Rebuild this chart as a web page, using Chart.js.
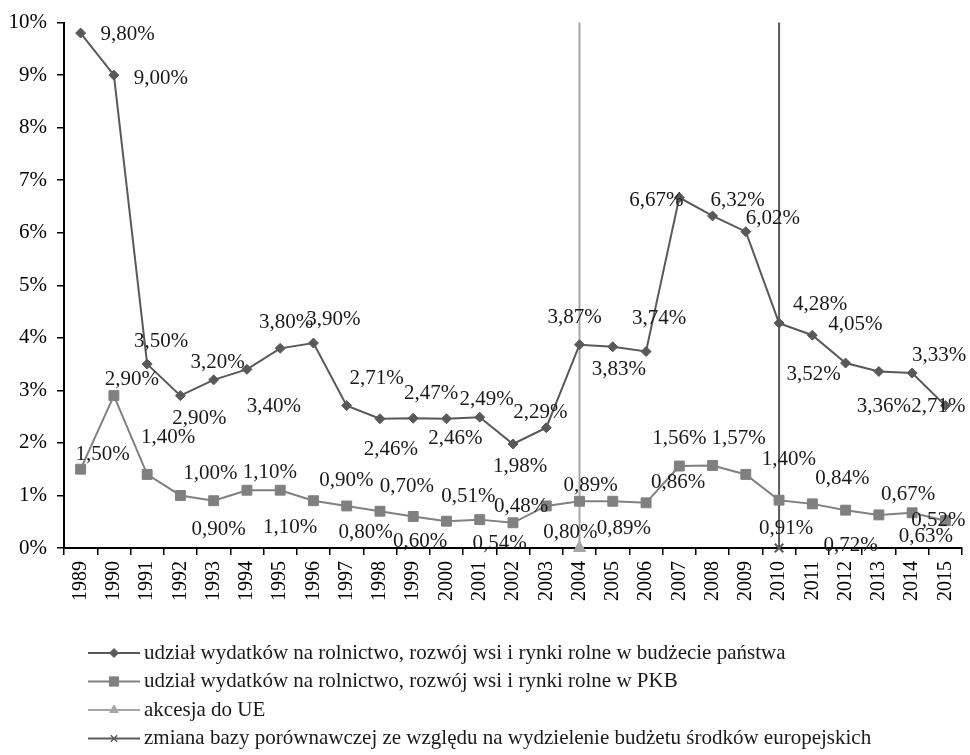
<!DOCTYPE html>
<html><head><meta charset="utf-8">
<script src="https://cdn.jsdelivr.net/npm/chart.js@4.4.1/dist/chart.umd.min.js"></script>
<style>html,body{margin:0;padding:0;background:#fff;}#wrap{width:970px;height:755px;position:relative;}</style>
</head><body><div id="wrap"><canvas id="c" width="970" height="755"></canvas></div>
<script>
const years = ['1989','1990','1991','1992','1993','1994','1995','1996','1997','1998','1999','2000','2001','2002','2003','2004','2005','2006','2007','2008','2009','2010','2011','2012','2013','2014','2015'];
const budgetShare = [9.80,9.00,3.50,2.90,3.20,3.40,3.80,3.90,2.71,2.46,2.47,2.46,2.49,1.98,2.29,3.87,3.83,3.74,6.67,6.32,6.02,4.28,4.05,3.52,3.36,3.33,2.71];
const gdpShare = [1.50,2.90,1.40,1.00,0.90,1.10,1.10,0.90,0.80,0.70,0.60,0.51,0.54,0.48,0.80,0.89,0.89,0.86,1.56,1.57,1.40,0.91,0.84,0.72,0.63,0.67,0.52];
const yTickValues = [0,1,2,3,4,5,6,7,8,9,10];
const accessionYear = '2004';
const baseChangeYear = '2010';
const legendLabels = [
  'udział wydatków na rolnictwo, rozwój wsi i rynki rolne w budżecie państwa',
  'udział wydatków na rolnictwo, rozwój wsi i rynki rolne w PKB',
  'akcesja do UE',
  'zmiana bazy porównawczej ze względu na wydzielenie budżetu środków europejskich'
];
// label placement offsets (px) relative to each point
const budgetLabelOffsets = [[47,1],[47,3],[14,-23],[19,23],[4,-17],[27,37],[6,-26],[20,-24],[30,-27],[11,31],[18,-25],[9,20],[7,-18],[7,23],[-6,-15],[-5,-27],[6,23],[13,-33],[-23,3],[25,-15],[27,-13],[41,-19],[43,-11],[-32,11],[5,35],[27,-18],[-7,1]];
const gdpLabelOffsets = [[22,-15],[18,-16],[21,-37],[30,-22],[5,29],[23,-18],[10,37],[33,-20],[19,27],[27,-25],[7,25],[22,-25],[20,24],[8,-16],[24,27],[11,-16],[11,27],[32,-20],[0,-28],[26,-27],[43,-15],[7,28],[30,-25],[5,35],[47,22],[-4,-18],[-7,0]];

const FONT = '"Liberation Serif", "Times New Roman", serif';
const C1 = '#595959', C2 = '#808080', C3 = '#a6a6a6', C4 = '#5a5a5a';
const fmt = v => v.toFixed(2).replace('.', ',') + '%';

const labelPlugin = {
  id: 'valueLabels',
  afterDatasetsDraw(chart) {
    const ctx = chart.ctx;
    ctx.save();
    ctx.font = '21px ' + FONT;
    ctx.fillStyle = '#1a1a1a';
    ctx.textAlign = 'center';
    ctx.textBaseline = 'middle';
    [[0, budgetShare, budgetLabelOffsets], [1, gdpShare, gdpLabelOffsets]].forEach(([di, vals, offs]) => {
      const meta = chart.getDatasetMeta(di);
      meta.data.forEach((pt, i) => {
        ctx.fillText(fmt(vals[i]), pt.x + offs[i][0], pt.y + offs[i][1]);
      });
    });
    ctx.restore();
  }
};

const legendPlugin = {
  id: 'stackLegend',
  afterDraw(chart) {
    const ctx = chart.ctx;
    const items = [
      {c: C1, s: 'rectRot', r: 4.5, bw: 1},
      {c: C2, s: 'rect', r: 6.5, bw: 1},
      {c: C3, s: 'triangle', r: 5, bw: 1},
      {c: C4, s: 'crossRot', r: 4.5, bw: 1.5}
    ];
    ctx.save();
    ctx.font = '21px ' + FONT;
    ctx.textBaseline = 'middle';
    ctx.textAlign = 'left';
    items.forEach((it, i) => {
      const y = 653 + i * 28.5;
      ctx.strokeStyle = it.c;
      ctx.fillStyle = it.c;
      ctx.lineWidth = 2;
      ctx.beginPath(); ctx.moveTo(88, y); ctx.lineTo(140, y); ctx.stroke();
      ctx.lineWidth = it.bw;
      Chart.helpers.drawPoint(ctx, {pointStyle: it.s, radius: it.r, borderWidth: it.bw}, 114, y);
      ctx.fillStyle = '#1a1a1a';
      ctx.fillText(legendLabels[i], 144, y);
    });
    ctx.restore();
  }
};

new Chart(document.getElementById('c'), {
  type: 'line',
  data: {
    labels: years,
    datasets: [
      {label: legendLabels[0], data: budgetShare, borderColor: C1, backgroundColor: C1, borderWidth: 2,
       pointStyle: 'rectRot', pointRadius: 5, pointBorderWidth: 1, tension: 0, order: 1, clip: false},
      {label: legendLabels[1], data: gdpShare, borderColor: C2, backgroundColor: C2, borderWidth: 2,
       pointStyle: 'rect', pointRadius: 7, pointBorderWidth: 1, tension: 0, order: 2, clip: false},
      {label: legendLabels[2], data: [{x: accessionYear, y: 0}, {x: accessionYear, y: 10}], borderColor: C3, backgroundColor: C3,
       borderWidth: 2, pointStyle: 'triangle', pointRadius: [7, 0], pointBorderWidth: 1, order: 3, clip: false},
      {label: legendLabels[3], data: [{x: baseChangeYear, y: 0}, {x: baseChangeYear, y: 10}], borderColor: C4, backgroundColor: C4,
       borderWidth: 2, pointStyle: 'crossRot', pointRadius: [6, 0], pointBorderWidth: 2, order: 4, clip: false}
    ]
  },
  options: {
    responsive: false,
    animation: false,
    devicePixelRatio: 1,
    layout: {padding: {left: 8, top: 21, right: 4, bottom: 147}},
    plugins: {legend: {display: false}, tooltip: {enabled: false}},
    scales: {
      x: {
        type: 'category',
        offset: true,
        grid: {offset: true, drawOnChartArea: false, drawTicks: true, tickLength: 7, tickColor: '#000', lineWidth: 1.5},
        border: {display: true, color: '#000', width: 2},
        ticks: {minRotation: 90, maxRotation: 90, autoSkip: false, padding: 6, color: '#000', font: {family: FONT, size: 20}},
        afterFit: s => { s.height = 60; s.paddingLeft = 0; s.paddingRight = 0; }
      },
      y: {
        min: 0, max: 10,
        afterBuildTicks: s => { s.ticks = yTickValues.map(v => ({value: v})); },
        grid: {drawOnChartArea: false, drawTicks: true, tickLength: 7, tickColor: '#000', lineWidth: 1.5},
        border: {display: true, color: '#000', width: 2},
        ticks: {padding: 10, color: '#000', font: {family: FONT, size: 21}, callback: v => v + '%'},
        afterFit: s => { s.width = 56; }
      }
    }
  },
  plugins: [labelPlugin, legendPlugin]
});
</script></body></html>
